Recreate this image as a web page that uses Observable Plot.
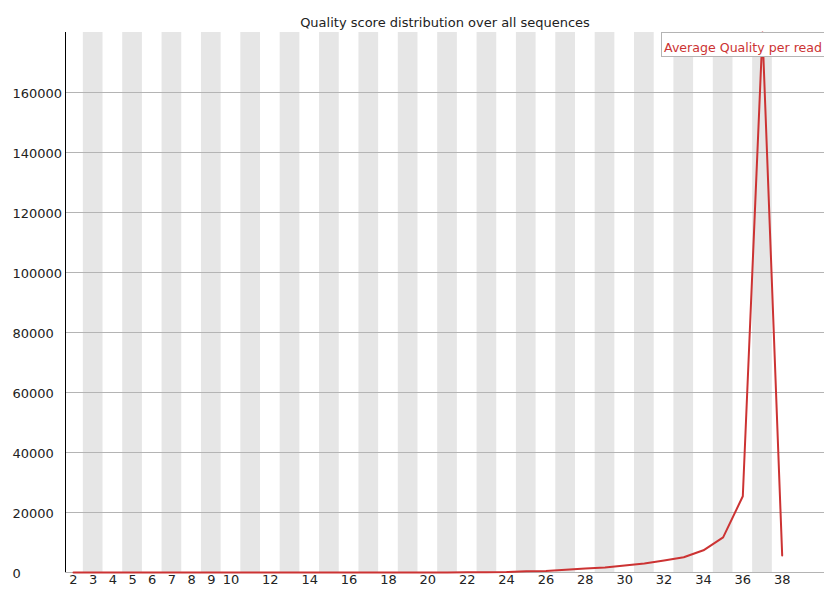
<!DOCTYPE html>
<html>
<head>
<meta charset="utf-8">
<script src="https://cdn.jsdelivr.net/npm/d3@7"></script>
<script src="https://cdn.jsdelivr.net/npm/@observablehq/plot@0.6"></script>
<style>
  html, body { margin: 0; padding: 0; background: #fff; }
  #wrap { position: relative; width: 824px; height: 592px; overflow: hidden; }
  #legend {
    position: absolute; left: 661px; top: 32px; width: 190px; height: 25px;
    box-sizing: border-box; border: 1px solid #b4b4b4; background: #fff;
    color: #cc3333; font-family: "DejaVu Sans", sans-serif; font-size: 12.6px;
    padding: 7px 0 0 2px; line-height: 15px; white-space: nowrap;
  }
</style>
</head>
<body>
<div id="wrap"></div>
<script>
const title = "Quality score distribution over all sequences";
const legendLabel = "Average Quality per read";
const scores = [2,3,4,5,6,7,8,9,10,11,12,13,14,15,16,17,18,19,20,21,22,23,24,25,26,27,28,29,30,31,32,33,34,35,36,37,38];
const counts = [20,10,5,5,5,5,5,5,5,5,10,10,10,10,10,15,20,20,30,40,50,80,150,400,500,900,1300,1700,2300,3000,4000,5100,7400,11700,25400,180000,5700];
const yTicks = [0,20000,40000,60000,80000,100000,120000,140000,160000];
const xTicks = [2,3,4,5,6,7,8,9,10,12,14,16,18,20,22,24,26,28,30,32,34,36,38];
const stripes = [3,5,7,9,11,13,15,17,19,21,23,25,27,29,31,33,35,37];
const xDomain = [1.594, 40.15];
const yDomain = [0, 180000];

const data = scores.map((s, i) => ({score: s, count: counts[i]}));

const chart = Plot.plot({
  width: 824,
  height: 592,
  marginLeft: 65,
  marginRight: 0,
  marginTop: 32,
  marginBottom: 20,
  x: {domain: xDomain, axis: null},
  y: {domain: yDomain, axis: null},
  style: {fontFamily: "DejaVu Sans, sans-serif", fontSize: "13px", color: "#222", background: "#fff"},
  marks: [
    Plot.rect(stripes, {x1: d => d - 0.5, x2: d => d + 0.5, y1: yDomain[0], y2: yDomain[1], fill: "#e6e6e6"}),
    Plot.ruleY(yTicks, {stroke: "#b4b4b4", strokeWidth: 1}),
    Plot.ruleX([xDomain[0]], {stroke: "#000", strokeWidth: 1}),
    Plot.line(data, {x: "score", y: "count", stroke: "#cc3333", strokeWidth: 2}),
    Plot.text(yTicks, {y: d => d, text: d => String(d), frameAnchor: "left", textAnchor: "start", dx: -53, dy: 1, fill: "#222"}),
    Plot.text(xTicks, {x: d => d, text: d => String(d), frameAnchor: "bottom", dy: 11, fill: "#222"}),
    Plot.text([title], {frameAnchor: "top", dy: -15, fill: "#222"})
  ]
});
const wrap = document.getElementById("wrap");
wrap.appendChild(chart);
const legend = document.createElement("div");
legend.id = "legend";
legend.textContent = legendLabel;
wrap.appendChild(legend);
</script>
</body>
</html>
